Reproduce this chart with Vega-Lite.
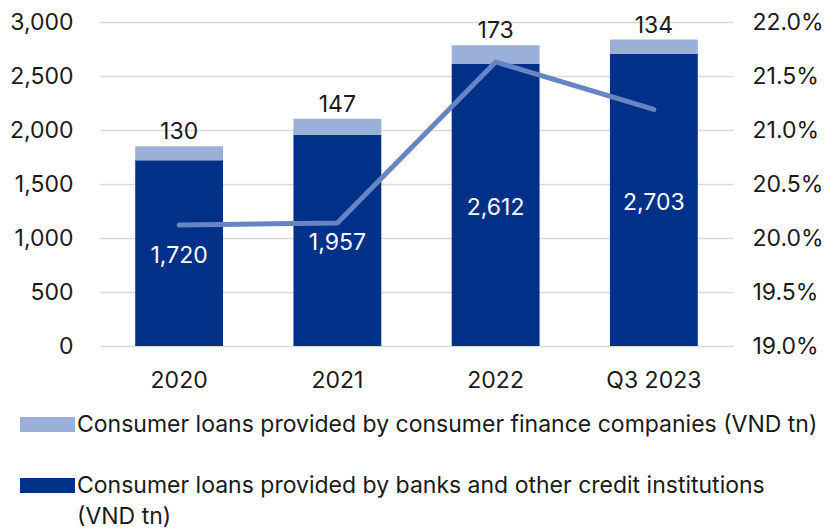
{
  "$schema": "https://vega.github.io/schema/vega-lite/v6.json",
  "width": 633,
  "height": 324,
  "autosize": {"type": "none"},
  "padding": {"left": 100, "top": 22, "right": 98, "bottom": 184},
  "background": "white",
  "datasets": {
    "bars": [
      {"period": "2020", "series": "Consumer loans provided by banks and other credit institutions (VND tn)", "value": 1720, "order": 1},
      {"period": "2020", "series": "Consumer loans provided by consumer finance companies (VND tn)", "value": 130, "order": 2},
      {"period": "2021", "series": "Consumer loans provided by banks and other credit institutions (VND tn)", "value": 1957, "order": 1},
      {"period": "2021", "series": "Consumer loans provided by consumer finance companies (VND tn)", "value": 147, "order": 2},
      {"period": "2022", "series": "Consumer loans provided by banks and other credit institutions (VND tn)", "value": 2612, "order": 1},
      {"period": "2022", "series": "Consumer loans provided by consumer finance companies (VND tn)", "value": 173, "order": 2},
      {"period": "Q3 2023", "series": "Consumer loans provided by banks and other credit institutions (VND tn)", "value": 2703, "order": 1},
      {"period": "Q3 2023", "series": "Consumer loans provided by consumer finance companies (VND tn)", "value": 134, "order": 2}
    ],
    "ratio": [
      {"period": "2020", "ratio": 0.2012},
      {"period": "2021", "ratio": 0.2014},
      {"period": "2022", "ratio": 0.2163},
      {"period": "Q3 2023", "ratio": 0.2119}
    ]
  },
  "encoding": {
    "x": {
      "field": "period",
      "type": "nominal",
      "sort": null,
      "scale": {"paddingInner": 0.445, "paddingOuter": 0.2225},
      "axis": {"title": null, "labelAngle": 0, "ticks": false, "domain": false, "labelPadding": 23, "labelFontSize": 23, "labelColor": "#1a1a1a", "labelFont": "Inter"}
    }
  },
  "layer": [
    {
      "data": {"name": "bars"},
      "layer": [
        {
          "mark": {"type": "bar"},
          "encoding": {
            "y": {
              "field": "value",
              "type": "quantitative",
              "stack": "zero",
              "scale": {"domain": [0, 3000], "nice": false},
              "axis": {"title": null, "values": [0, 500, 1000, 1500, 2000, 2500, 3000], "format": ",.0f", "domain": false, "ticks": false, "labelPadding": 27, "labelFontSize": 23, "labelColor": "#1a1a1a", "labelFont": "Inter", "grid": true, "gridColor": "#d9d9d9", "gridWidth": 1.5}
            },
            "color": {
              "field": "series",
              "type": "nominal",
              "scale": {
                "domain": ["Consumer loans provided by consumer finance companies (VND tn)", "Consumer loans provided by banks and other credit institutions (VND tn)"],
                "range": ["#9bb0d8", "#003087"]
              },
              "legend": {
                "title": null,
                "orient": "none",
                "legendX": -64,
                "legendY": 391,
                "direction": "vertical",
                "padding": 0,
                "rowPadding": 37,
                "symbolType": "M-2.5,-0.68H2.5V0.68H-2.5Z",
                "symbolSize": 484,
                "symbolStrokeWidth": 0,
                "symbolOpacity": 1,
                "labelOffset": 18,
                "labelFontSize": 23,
                "labelFont": "Inter",
                "labelColor": "#1a1a1a",
                "labelLimit": 800,
                "labelBaseline": "middle",
                "labelExpr": "datum.label == 'Consumer loans provided by banks and other credit institutions (VND tn)' ? ['Consumer loans provided by banks and other credit institutions', '(VND tn)'] : datum.label"
              }
            },
            "order": {"field": "order", "type": "quantitative"}
          }
        },
        {
          "transform": [{"filter": "datum.order == 1"}],
          "mark": {"type": "text", "color": "white", "fontSize": 23, "font": "Inter", "baseline": "middle", "dy": 3},
          "encoding": {
            "y": {"field": "value", "type": "quantitative", "stack": "zero", "bandPosition": 0.5},
            "text": {"field": "value", "type": "quantitative", "format": ",.0f"}
          }
        },
        {
          "transform": [
            {"stack": "value", "groupby": ["period"], "sort": [{"field": "order", "order": "ascending"}], "as": ["v0", "v1"]},
            {"filter": "datum.order == 2"}
          ],
          "mark": {"type": "text", "color": "#1a1a1a", "fontSize": 23, "font": "Inter", "baseline": "bottom", "dy": -2},
          "encoding": {
            "y": {"field": "v1", "type": "quantitative"},
            "text": {"field": "value", "type": "quantitative", "format": ",.0f"}
          }
        }
      ]
    },
    {
      "data": {"name": "ratio"},
      "mark": {"type": "line", "color": "#6585c4", "strokeWidth": 5, "strokeCap": "round", "strokeJoin": "round"},
      "encoding": {
        "y": {
          "field": "ratio",
          "type": "quantitative",
          "scale": {"domain": [0.19, 0.22], "nice": false, "zero": false},
          "axis": {"title": null, "orient": "right", "values": [0.19, 0.195, 0.2, 0.205, 0.21, 0.215, 0.22], "format": ".1%", "domain": false, "ticks": false, "grid": false, "labelPadding": 19, "labelFontSize": 23, "labelColor": "#1a1a1a", "labelFont": "Inter"}
        }
      }
    }
  ],
  "resolve": {"scale": {"y": "independent"}},
  "config": {
    "view": {"stroke": null},
    "style": {"guide-label": {"lineHeight": 31}}
  }
}
